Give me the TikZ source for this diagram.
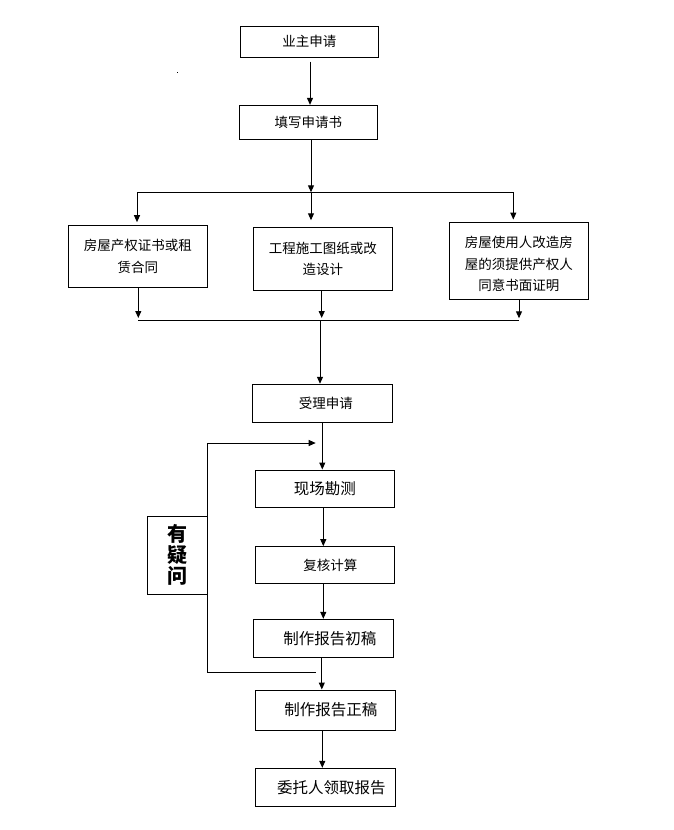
\documentclass[tikz,border=0pt]{standalone}
\usepackage{fontspec}
\setmainfont{Noto Sans CJK SC}
\usetikzlibrary{arrows.meta}
\begin{document}
\begin{tikzpicture}[x=1pt,y=-1pt,
  box/.style={draw,line width=1pt,inner sep=0pt,align=center,font=\fontsize{13.5}{21.5}\selectfont},
  big/.style={font=\fontsize{15.5}{20}\selectfont},
  arr/.style={line width=1pt,-{Triangle[length=7pt,width=6pt]}},
  ln/.style={line width=1pt}]
\useasboundingbox (0,0) rectangle (673,830);
\node[box,minimum width=138pt,minimum height=31.3pt] (b1) at (309.3,41.7) {业主申请};
\node[box,minimum width=138pt,minimum height=33.7pt] (b2) at (308.3,122.2) {填写申请书};
\node[box,minimum width=139pt,minimum height=62pt] (bA) at (137.8,256.3) {房屋产权证书或租\\赁合同};
\node[box,minimum width=139pt,minimum height=62.7pt] (bB) at (322.8,258.7) {工程施工图纸或改\\造设计};
\node[box,minimum width=139pt,minimum height=76.7pt] (bC) at (518.8,260.7) {\raisebox{-4pt}[\height][\depth]{\begin{tabular}{@{}c@{}}房屋使用人改造房\\屋的须提供产权人\\同意书面证明\end{tabular}}};
\node[box,minimum width=140pt,minimum height=38pt] (b3) at (322.3,403.3) {\hspace*{7pt}受理申请};
\node[box,big,minimum width=139pt,minimum height=37pt] (b4) at (324.8,488.5) {现场勘测};
\node[box,minimum width=139pt,minimum height=37.3pt] (b5) at (324.8,565.3) {\hspace*{11pt}复核计算};
\node[box,big,minimum width=140pt,minimum height=38pt] (b6) at (323.3,638.3) {\hspace*{13pt}制作报告初稿};
\node[box,big,minimum width=140pt,minimum height=40pt] (b7) at (325.3,710) {\hspace*{11pt}制作报告正稿};
\node[box,big,minimum width=140pt,minimum height=38pt] (b8) at (325.3,787.3) {\hspace*{12pt}委托人领取报告};
\node[box,minimum width=60.4pt,minimum height=78pt,font=\fontsize{20}{21}\selectfont\bfseries] (bQ) at (177.5,555) {有\\疑\\问};
\coordinate (s0) at (310,61.7);
\coordinate (tL) at (137,192.3);
\coordinate (tM) at (311,192.3);
\coordinate (tR) at (513.3,192.3);
\coordinate (mL) at (138.3,320);
\coordinate (mM) at (321.7,320);
\coordinate (mR) at (519,320);
\coordinate (mS) at (320,320);
\coordinate (fT) at (207.7,443);
\coordinate (fTe) at (315.7,443);
\coordinate (fB) at (207.7,672);
\coordinate (fBe) at (315.7,672);
\draw[arr] (s0) -- (s0 |- b2.north);
\draw[arr] (b2.south -| tM) -- (tM);
\draw[ln] (tL) -- (tR);
\draw[arr,shorten >=2.6pt] (tL) -- (tL |- bA.north);
\draw[arr,shorten >=6.6pt] (tM) -- (tM |- bB.north);
\draw[arr,shorten >=2.3pt] (tR) -- (tR |- bC.north);
\draw[arr,shorten >=2pt] (mL |- bA.south) -- (mL);
\draw[arr,shorten >=2pt] (mM |- bB.south) -- (mM);
\draw[arr,shorten >=1.7pt] (mR |- bC.south) -- (mR);
\draw[ln] (mL) -- (mR);
\draw[arr] (mS) -- (mS |- b3.north);
\draw[arr] (b3.south) -- (b3.south |- b4.north);
\draw[arr] ([xshift=-1.5pt]b4.south) -- ([xshift=-1.5pt]b5.north);
\draw[arr] ([xshift=-1.5pt]b5.south) -- ([xshift=-1.5pt]b5.south |- b6.north);
\draw[arr] ([xshift=-1.5pt]b6.south) -- ([xshift=-1.5pt]b6.south |- b7.north);
\draw[arr] ([xshift=-3pt]b7.south) -- ([xshift=-3pt]b8.north);
\draw[arr] (fBe) -- (fB) -- (fT) -- (fTe);
\fill (176.8,72.2) rectangle (177.8,73.2);
\end{tikzpicture}
\end{document}
